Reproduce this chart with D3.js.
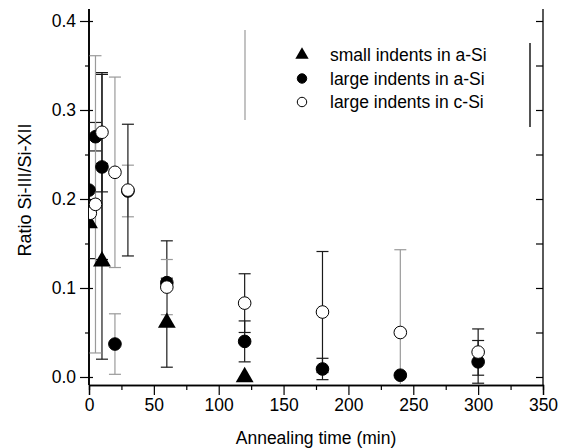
<!DOCTYPE html>
<html>
<head>
<meta charset="utf-8">
<script src="https://cdn.jsdelivr.net/npm/d3@7"></script>
<style>
  body { margin: 0; background: #fff; }
  text { font-family: Arial, "Liberation Sans", sans-serif; fill: #000; }
</style>
</head>
<body>
<div id="chart"></div>
<script>
// small indents in a-Si (triangles)
const smallTime = [0, 10, 60, 120];
const smallRatio = [0.173, 0.130, 0.061, 0.000];
const smallErr = [0.040, 0.110, 0.050, 0];

// large indents in a-Si (filled circles)
const largeATime = [0, 5, 10, 20, 30, 60, 120, 180, 240, 300];
const largeARatio = [0.210, 0.270, 0.236, 0.037, 0.209, 0.106, 0.040, 0.009, 0.002, 0.017];
const largeAErr = [0, 0.016, 0.104, 0.034, 0.029, 0.047, 0.023, 0.012, 0, 0.024];

// large indents in c-Si (open circles)
const largeCTime = [1, 5, 10, 20, 30, 60, 120, 180, 240, 300];
const largeCRatio = [0.184, 0.194, 0.275, 0.230, 0.210, 0.101, 0.083, 0.073, 0.050, 0.028];
const largeCErr = [0, 0.167, 0.067, 0.107, 0.074, 0.031, 0.033, 0.068, 0.093, 0.026];

const xTicks = [0, 50, 100, 150, 200, 250, 300, 350];
const yTicks = [0.0, 0.1, 0.2, 0.3, 0.4];
const legendLabels = ["small indents in a-Si", "large indents in a-Si", "large indents in c-Si"];

// which error bars come out gray in the original
const grayBars = new Set(["c1", "c5", "c20", "c60", "c240", "a20", "a30"]);

const width = 565;
const height = 448;
const margin = { left: 89, right: 22, top: 21, bottom: 63 };

const svg = d3.select("#chart")
    .append("svg")
    .attr("width", width)
    .attr("height", height);

const x = d3.scaleLinear()
    .domain([0, 350])
    .range([margin.left, width - margin.right]);

const y = d3.scaleLinear()
    .domain([-0.009, 0.4])
    .range([height - margin.bottom, margin.top]);

svg.append("clipPath").attr("id", "clip")
    .append("rect")
    .attr("x", margin.left)
    .attr("y", margin.top - 15)
    .attr("width", width - margin.left - margin.right)
    .attr("height", height - margin.top - margin.bottom + 15);

// axes
const bottom = svg.append("g")
    .attr("transform", `translate(0, ${y.range()[0]})`);
bottom.call(d3.axisBottom(x).tickValues(d3.range(25, 350, 50)).tickSize(5).tickFormat(""));
bottom.append("g").call(d3.axisBottom(x).tickValues(xTicks).tickSize(10).tickPadding(4).tickFormat(d3.format("d")));

const left = svg.append("g")
    .attr("transform", `translate(${margin.left}, 0)`);
left.call(d3.axisLeft(y).tickValues([0.05, 0.15, 0.25, 0.35]).tickSize(4).tickFormat(""));
left.append("g").call(d3.axisLeft(y).tickValues(yTicks).tickSize(9).tickPadding(4).tickFormat(d3.format(".1f")));
left.append("g").call(d3.axisRight(y).tickValues(yTicks).tickSize(4).tickFormat(""));

const right = svg.append("g")
    .attr("transform", `translate(${width - margin.right}, 0)`);
right.call(d3.axisLeft(y).tickValues(d3.range(0, 0.401, 0.05)).tickSize(7).tickFormat(""));

svg.selectAll(".domain").attr("stroke", "#000").attr("stroke-width", 1.3);
svg.selectAll(".tick line").attr("stroke", "#000").attr("stroke-width", 1.2);
svg.selectAll(".tick text").style("font-size", "17.5px").attr("fill", "#000");
left.selectAll(".domain").attr("d", `M0,${y.range()[0]}V${y.range()[1] - 12}`);
right.selectAll(".domain").attr("d", `M0,${y.range()[0]}V${y.range()[1] - 12}`);

// axis titles
svg.append("text")
    .attr("x", (margin.left + width - margin.right) / 2)
    .attr("y", 444)
    .attr("text-anchor", "middle")
    .style("font-size", "17.5px")
    .text("Annealing time (min)");

svg.append("text")
    .attr("transform", `translate(31, 190) rotate(-90)`)
    .attr("text-anchor", "middle")
    .style("font-size", "18px")
    .text("Ratio Si-III/Si-XII");

const series = [
    { key: "s", time: smallTime, ratio: smallRatio, err: smallErr, shape: "triangle" },
    { key: "a", time: largeATime, ratio: largeARatio, err: largeAErr, shape: "filled" },
    { key: "c", time: largeCTime, ratio: largeCRatio, err: largeCErr, shape: "open" }
];

const plot = svg.append("g").attr("clip-path", "url(#clip)");

// error bars first
series.forEach(s => {
    const pts = s.time.map((t, i) => ({ t: t, v: s.ratio[i], e: s.err[i], key: s.key + t }))
        .filter(d => d.e > 0);
    const bars = plot.append("g")
        .selectAll("g")
        .data(pts)
        .enter()
        .append("g")
        .attr("stroke", d => grayBars.has(d.key) ? "#9a9a9a" : "#1a1a1a")
        .attr("stroke-width", 1.2);
    bars.append("line")
        .attr("x1", d => x(d.t)).attr("x2", d => x(d.t))
        .attr("y1", d => y(d.v - d.e)).attr("y2", d => y(d.v + d.e));
    bars.append("line")
        .attr("x1", d => x(d.t) - 6).attr("x2", d => x(d.t) + 6)
        .attr("y1", d => y(d.v - d.e)).attr("y2", d => y(d.v - d.e));
    bars.append("line")
        .attr("x1", d => x(d.t) - 6).attr("x2", d => x(d.t) + 6)
        .attr("y1", d => y(d.v + d.e)).attr("y2", d => y(d.v + d.e));
});

const triangle = d3.symbol().type(d3.symbolTriangle);

const drawMarker = (sel, shape, size) => {
    if (shape === "triangle") {
        sel.append("path")
            .attr("d", triangle.size(size * 1.1)())
            .attr("fill", "#000");
    } else {
        sel.append("circle")
            .attr("r", Math.sqrt(size / Math.PI))
            .attr("fill", shape === "filled" ? "#000" : "#fff")
            .attr("stroke", "#000")
            .attr("stroke-width", 1);
    }
};

series.forEach(s => {
    const pts = s.time.map((t, i) => ({ t: t, v: s.ratio[i] }));
    plot.append("g")
        .selectAll("g")
        .data(pts)
        .enter()
        .append("g")
        .attr("transform", d => `translate(${x(d.t)}, ${y(d.v)})`)
        .each(function() { drawMarker(d3.select(this), s.shape, 125); });
});

// legend
const legend = svg.append("g");
legend.append("line")
    .attr("x1", 245).attr("x2", 245).attr("y1", 30).attr("y2", 120)
    .attr("stroke", "#9a9a9a").attr("stroke-width", 1.2);
legend.append("line")
    .attr("x1", 530).attr("x2", 530).attr("y1", 43).attr("y2", 127)
    .attr("stroke", "#1a1a1a").attr("stroke-width", 1.5);

series.forEach((s, i) => {
    const row = legend.append("g")
        .attr("transform", `translate(302, ${55 + i * 23.5})`);
    drawMarker(row.append("g"), s.shape, 70);
    row.append("text")
        .attr("x", 28)
        .attr("dy", "0.35em")
        .style("font-size", "17.5px")
        .text(legendLabels[i]);
});
</script>
</body>
</html>
